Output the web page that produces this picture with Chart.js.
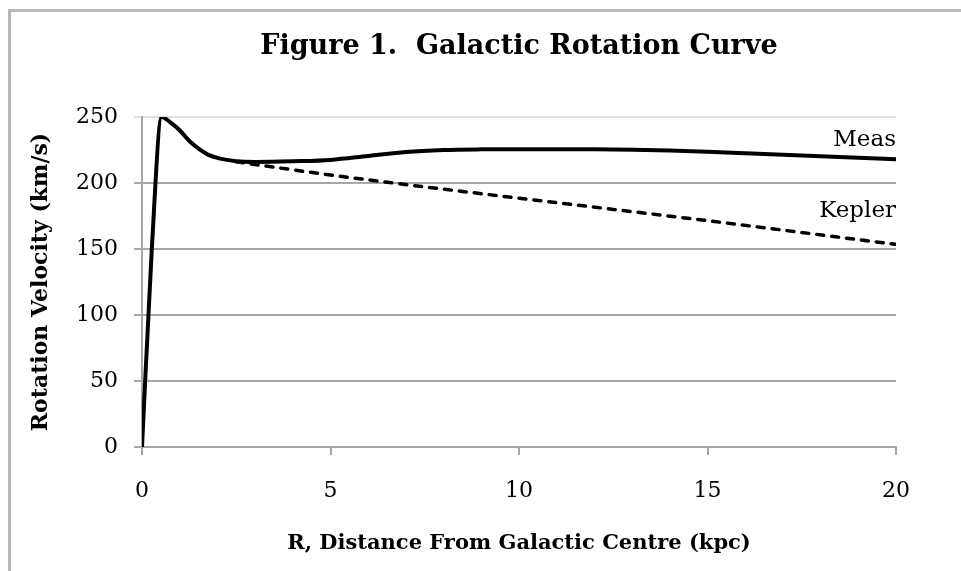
<!DOCTYPE html>
<html>
<head>
<meta charset="utf-8">
<script src="https://cdn.jsdelivr.net/npm/chart.js@4"></script>
<style>
  html, body { margin: 0; padding: 0; background: #fff; overflow: hidden; width: 961px; height: 571px; }
  #wrap { position: absolute; left: 0; top: 0; width: 961px; height: 571px; }
</style>
</head>
<body>
<div id="wrap"><canvas id="c" width="961" height="571"></canvas></div>
<script>
const titleText = 'Figure 1.  Galactic Rotation Curve';
const xTitle = 'R, Distance From Galactic Centre (kpc)';
const yTitle = 'Rotation Velocity (km/s)';

const measR = [0, 0.26, 0.52, 0.75, 1.0, 1.25, 1.5, 1.75, 2.0, 2.25, 2.5, 3, 4, 5, 6, 7, 8, 9, 10, 11, 12, 13, 14, 15, 16, 17, 18, 19, 20];
const measV = [0, 150, 250, 246, 240, 232, 226, 221.5, 219, 217.5, 216.5, 216, 216.5, 217.5, 220.5, 223.5, 225, 225.5, 225.6, 225.6, 225.5, 225.2, 224.6, 223.7, 222.6, 221.4, 220.3, 219.1, 218];

const keplerR = [2.5, 5, 7.5, 10, 12.5, 15, 17.5, 20];
const keplerV = [216, 206, 197, 188.5, 180, 171.5, 162.5, 153.5];

const seriesNames = ['Meas', 'Kepler'];
const xTicks = [0, 5, 10, 15, 20];
const yTicks = [0, 50, 100, 150, 200, 250];

const FONT = "'DejaVu Serif', serif";
const GRID = '#a6a6a6';
const FRAME = '#b8b8b8';

const frame = {
  id: 'frame',
  afterDraw(chart) {
    const ctx = chart.ctx;
    ctx.save();
    ctx.fillStyle = FRAME;
    ctx.fillRect(8, 9, chart.width - 8, 3);
    ctx.fillRect(8, 9, 3, chart.height - 9);
    ctx.restore();
  }
};

const endLabels = {
  id: 'endLabels',
  afterDatasetsDraw(chart) {
    const ctx = chart.ctx;
    const xs = chart.scales.x, ys = chart.scales.y;
    ctx.save();
    ctx.font = '23px ' + FONT;
    ctx.fillStyle = '#000';
    ctx.textAlign = 'right';
    ctx.textBaseline = 'alphabetic';
    chart.data.datasets.forEach((ds, i) => {
      const last = ds.data[ds.data.length - 1];
      const px = xs.getPixelForValue(last.x);
      const py = ys.getPixelForValue(last.y);
      const off = i === 0 ? 13 : 27;
      ctx.fillText(ds.label, px, py - off);
    });
    ctx.restore();
  }
};

new Chart(document.getElementById('c'), {
  type: 'scatter',
  data: {
    datasets: [
      {
        label: seriesNames[0],
        data: measR.map((r, i) => ({ x: r, y: measV[i] })),
        showLine: true,
        borderColor: '#000',
        borderWidth: 4,
        pointRadius: 0,
        cubicInterpolationMode: 'monotone',
        borderCapStyle: 'round',
        borderJoinStyle: 'round'
      },
      {
        label: seriesNames[1],
        data: keplerR.map((r, i) => ({ x: r, y: keplerV[i] })),
        showLine: true,
        borderColor: '#000',
        borderWidth: 3.5,
        borderDash: [7, 8],
        borderCapStyle: 'round',
        pointRadius: 0,
        tension: 0
      }
    ]
  },
  options: {
    responsive: false,
    animation: false,
    events: [],
    layout: { padding: { left: 20, right: 65, top: 0, bottom: 0 } },
    plugins: {
      legend: { display: false },
      tooltip: { enabled: false },
      title: {
        display: true,
        fullSize: false,
        text: titleText,
        color: '#000',
        font: { family: FONT, size: 27, weight: 'bold', lineHeight: 1.2 },
        padding: { top: 31, bottom: 53.6 }
      }
    },
    scales: {
      x: {
        type: 'linear',
        min: 0, max: 20,
        afterBuildTicks(scale) { scale.ticks = xTicks.map(v => ({ value: v })); },
        afterFit(scale) { scale.height = 124; },
        grid: { drawOnChartArea: false, drawTicks: true, tickLength: 8, color: GRID, lineWidth: 2 },
        border: { display: true, color: GRID, width: 2 },
        ticks: { color: '#000', font: { family: FONT, size: 22 }, padding: 23, maxRotation: 0 },
        title: {
          display: true, text: xTitle, color: '#000',
          font: { family: FONT, size: 21, weight: 'bold', lineHeight: 1.2 },
          padding: { top: 0, bottom: 15 }
        }
      },
      y: {
        type: 'linear',
        min: 0, max: 250,
        afterBuildTicks(scale) { scale.ticks = yTicks.map(v => ({ value: v })); },
        afterFit(scale) { scale.width = 122; },
        grid: {
          drawTicks: true, tickLength: 8, lineWidth: 2,
          color: (c) => (c.tick && c.tick.value === 250) ? '#e0e0e0' : GRID
        },
        border: { display: true, color: GRID, width: 2 },
        ticks: { color: '#000', font: { family: FONT, size: 22 }, padding: 16 },
        title: {
          display: true, text: yTitle, color: '#000',
          font: { family: FONT, size: 22, weight: 'bold', lineHeight: 1.2 },
          padding: { top: 8, bottom: 0 }
        }
      }
    }
  },
  plugins: [endLabels, frame]
});
</script>
</body>
</html>
